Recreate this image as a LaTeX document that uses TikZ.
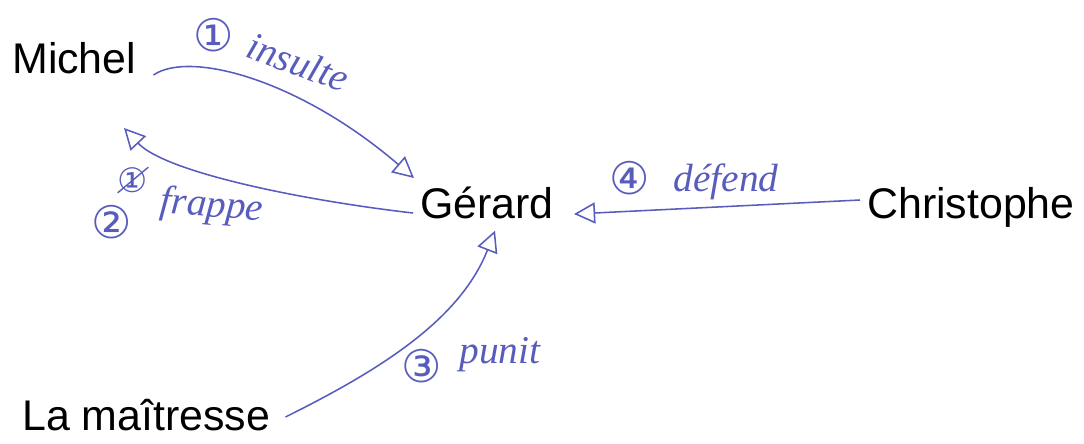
\documentclass[tikz,border=0pt]{standalone}
\usepackage{fontspec}
\setmainfont{Liberation Sans}
\newfontfamily\handfont{Liberation Serif}
\newfontfamily\ringfont{DejaVu Sans}
\usetikzlibrary{arrows.meta}
\definecolor{ink}{RGB}{88,92,188}

\begin{document}
\begin{tikzpicture}[x=0.025cm, y=-0.025cm,
  person/.style = {font=\fontsize{30.5}{36}\selectfont, inner sep=0pt, anchor=base west},
  act/.style = {draw=ink, line width=1.1pt, -{Triangle[open, length=15pt, width=15pt, line width=1.1pt]}},
  word/.style = {text=ink, font=\handfont\itshape\fontsize{28}{32}\selectfont, inner sep=0pt},
  ring/.style = {text=ink, font=\ringfont\fontsize{32}{36}\selectfont, inner sep=0pt}]
\useasboundingbox (0,0) rectangle (1084,443);
\node[person] (michel) at (12,73) {Michel};
\node[person] (gerard) at (420,218) {Gérard};
\node[person] (christophe) at (867,218) {Christophe};
\node[person] (maitresse) at (22,430) {La maîtresse};
\coordinate (hit) at (124,128);
% labels
\node[ring] (n1) at (214,35) {①};
\node[word, rotate=-20] (insulte) at (298,62) {insulte};
\node[ring, scale=0.75] (n1x) at (133,180) {①};
\draw[ink, line width=1pt] (n1x.south west) -- (n1x.north east);
\node[ring] (n2) at (112,222) {②};
\node[word, rotate=-5] (frappe) at (212,207) {frappe};
\node[ring] (n3) at (422,366) {③};
\node[word] (punit) at (500,355) {punit};
\node[ring] (n4) at (630,178) {④};
\node[word] (defend) at (726,182) {défend};
% arrows
\draw[act] ([shift={(17,2)}]michel.base east) .. controls (190,50) and (300,80) .. ([shift={(-6,-40)}]gerard.base west);
\draw[act] ([shift={(-7,-5)}]gerard.base west) .. controls (300,200) and (165,172) .. (hit);
\draw[act] ([shift={(15,-13)}]maitresse.base east) .. controls (380,370) and (460,320) .. ([shift={(8,12)}]gerard.south);
\draw[act] ([shift={(-7,-18)}]christophe.base west) -- ([shift={(20,-4)}]gerard.base east);
\end{tikzpicture}
\end{document}
